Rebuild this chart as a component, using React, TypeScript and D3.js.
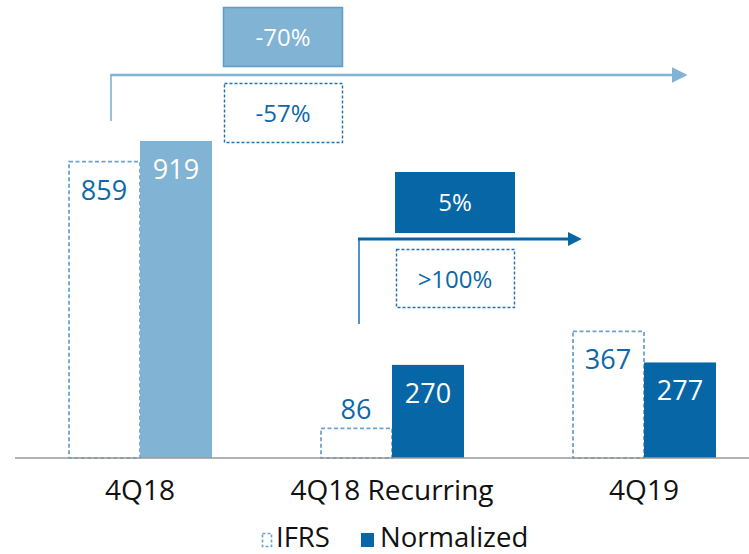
import React from 'react';
import * as d3 from 'd3';

const categories = ['4Q18', '4Q18 Recurring', '4Q19'];
const series = ['IFRS', 'Normalized'];
const ifrsValues = [859, 86, 367];
const normalizedValues = [919, 270, 277];
const changeNormalized = ['-70%', '5%'];
const changeIfrs = ['-57%', '>100%'];

const W = 749;
const H = 554;
const BASE = 458;
const FONT = '"Open Sans", "Noto Sans", sans-serif';
const LIGHT = '#80b3d4';
const DARK = '#0767a6';
const DASH_BAR = '#6aa4cd';
const LABEL = '#0d68a8';

const App = () => {
  const x = d3.scaleBand().domain(categories).range([14, 770]).padding(0);
  const xSub = d3.scaleBand().domain(series).range([0, 144]).padding(0);
  const y = d3.scaleLinear().domain([0, 919]).range([BASE, 141]);

  const rows = categories.map((c, i) => ({ cat: c, ifrs: ifrsValues[i], norm: normalizedValues[i] }));
  const normFill = (i) => (i === 0 ? LIGHT : DARK);

  const groupX = (c) => (x(c) || 0) + x.bandwidth() / 2 - 72;
  const bw = xSub.bandwidth();

  // labels sit inside the bar, or just above it when the bar is short
  const valueLabel = (v, xc, fill) => {
    const top = y(v);
    const inside = BASE - top > 50;
    return (
      <text
        x={xc}
        y={inside ? top + 38 : top - 9}
        textAnchor="middle"
        fontSize={27}
        fontFamily={FONT}
        fill={fill}
      >
        {v}
      </text>
    );
  };

  return (
    <svg width={W} height={H} style={{ display: 'block', position: 'absolute', left: 0, top: 0 }}>
      <rect width={W} height={H} fill="#fff" />
      <defs>
        <marker id="headLight" viewBox="0 0 10 10" refX="0" refY="5" markerWidth="6" markerHeight="6.4" orient="auto" markerUnits="strokeWidth">
          <path d="M0,0 L10,5 L0,10 Z" fill={LIGHT} />
        </marker>
        <marker id="headDark" viewBox="0 0 10 10" refX="0" refY="5" markerWidth="4.3" markerHeight="4.6" orient="auto" markerUnits="strokeWidth">
          <path d="M0,0 L10,5 L0,10 Z" fill={DARK} />
        </marker>
      </defs>

      {/* bars */}
      {rows.map((r, i) => {
        const gx = groupX(r.cat);
        const xi = gx + (xSub('IFRS') || 0);
        const xn = gx + (xSub('Normalized') || 0);
        return (
          <g key={r.cat}>
            <rect
              x={xi + 1}
              y={y(r.ifrs)}
              width={bw - 1}
              height={BASE - y(r.ifrs)}
              fill="none"
              stroke={DASH_BAR}
              strokeWidth={1.8}
              strokeDasharray="4,2.5"
            />
            <rect x={xn} y={y(r.norm)} width={bw} height={BASE - y(r.norm)} fill={normFill(i)} />
            {valueLabel(r.ifrs, xi + bw / 2, LABEL)}
            {valueLabel(r.norm, xn + bw / 2, '#fff')}
          </g>
        );
      })}

      {/* axis */}
      <line x1={15} x2={W} y1={BASE} y2={BASE} stroke="#9a9a9a" strokeWidth={1.5} />
      {categories.map((c) => (
        <text
          key={c}
          x={(x(c) || 0) + x.bandwidth() / 2}
          y={500}
          textAnchor="middle"
          fontSize={28}
          fontFamily={FONT}
          fill="#111"
        >
          {c}
        </text>
      ))}

      {/* first arrow: 4Q18 -> 4Q19 */}
      <path d="M111,121 L111,75" stroke={LIGHT} strokeWidth={1.6} fill="none" />
      <path d="M110.2,75 L672,75" stroke={LIGHT} strokeWidth={2.6} fill="none" markerEnd="url(#headLight)" />
      <rect x={223.5} y={7.5} width={119} height={59} fill={LIGHT} stroke="#5f9dc9" strokeWidth={1.5} />
      <text x={283} y={46} textAnchor="middle" fontSize={24} fontFamily={FONT} fill="#fff">
        {changeNormalized[0]}
      </text>
      <rect x={224.5} y={83.5} width={118} height={59} fill="none" stroke="#1f70ae" strokeWidth={1.4} strokeDasharray="3,2" />
      <text x={283} y={122} textAnchor="middle" fontSize={24} fontFamily={FONT} fill={LABEL}>
        {changeIfrs[0]}
      </text>

      {/* second arrow: 4Q18 Recurring -> 4Q19 */}
      <path d="M359,324 L359,239" stroke="#3f88bf" strokeWidth={1.8} fill="none" />
      <path d="M358,239 L568,239" stroke={DARK} strokeWidth={3.2} fill="none" markerEnd="url(#headDark)" />
      <rect x={395} y={172} width={120} height={61} fill={DARK} />
      <text x={455} y={211} textAnchor="middle" fontSize={24} fontFamily={FONT} fill="#fff">
        {changeNormalized[1]}
      </text>
      <rect x={396.5} y={249.5} width={118} height={58} fill="none" stroke="#1f70ae" strokeWidth={1.4} strokeDasharray="3,2" />
      <text x={455} y={288} textAnchor="middle" fontSize={24} fontFamily={FONT} fill={LABEL}>
        {changeIfrs[1]}
      </text>

      {/* legend */}
      <rect x={262.5} y={533.5} width={9} height={13} fill="none" stroke={DASH_BAR} strokeWidth={1.6} strokeDasharray="3,2" />
      <text x={276} y={546.5} fontSize={27.5} fontFamily={FONT} fill="#111">
        {series[0]}
      </text>
      <rect x={361} y={533} width={13} height={14} fill={DARK} />
      <text x={380} y={546.5} fontSize={27.5} fontFamily={FONT} fill="#111">
        {series[1]}
      </text>
    </svg>
  );
};

export default App;
